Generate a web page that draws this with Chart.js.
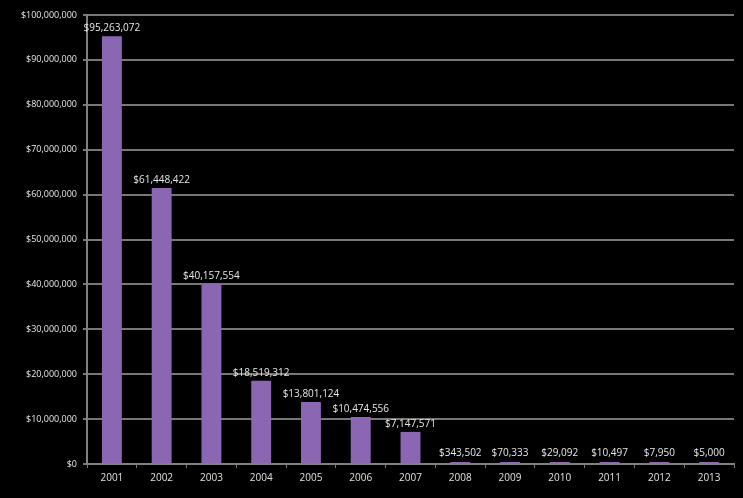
<!DOCTYPE html>
<html>
<head>
<meta charset="utf-8">
<script src="https://cdn.jsdelivr.net/npm/chart.js@4"></script>
<style>
    html, body { margin: 0; padding: 0; background: #000; }
    #wrap { width: 743px; height: 498px; }
</style>
</head>
<body>
<div id="wrap"><canvas id="fundingChart"></canvas></div>
<script>
const years = ['2001', '2002', '2003', '2004', '2005', '2006', '2007', '2008', '2009', '2010', '2011', '2012', '2013'];
const amounts = [95263072, 61448422, 40157554, 18519312, 13801124, 10474556, 7147571, 343502, 70333, 29092, 10497, 7950, 5000];
const yTicks = [0, 10000000, 20000000, 30000000, 40000000, 50000000, 60000000, 70000000, 80000000, 90000000, 100000000];

const fontFamily = '"Open Sans", "DejaVu Sans Condensed", sans-serif';

function money(v) {
    return '$' + v.toLocaleString('en-US');
}

// draw the value above each bar
const barLabels = {
    id: 'barLabels',
    afterDatasetsDraw(chart) {
        const ctx = chart.ctx;
        const meta = chart.getDatasetMeta(0);
        ctx.save();
        ctx.font = '10px ' + fontFamily;
        ctx.fillStyle = '#e6e6e6';
        ctx.textAlign = 'center';
        ctx.textBaseline = 'bottom';
        meta.data.forEach((bar, i) => {
            ctx.fillText(money(amounts[i]), bar.x, Math.min(bar.y, bar.base - 2) - 3);
        });
        ctx.restore();
    }
};

const ctx = document.getElementById('fundingChart').getContext('2d');
new Chart(ctx, {
    type: 'bar',
    data: {
        labels: years,
        datasets: [{
            data: amounts,
            backgroundColor: '#8b66b3',
            minBarLength: 2,
            barPercentage: 0.4,
            categoryPercentage: 1
        }]
    },
    options: {
        responsive: true,
        maintainAspectRatio: false,
        animation: false,
        layout: { padding: { top: 15, right: 9, left: 0, bottom: 0 } },
        plugins: {
            legend: { display: false },
            tooltip: { enabled: false }
        },
        scales: {
            x: {
                offset: true,
                afterFit(scale) { scale.height = 34; },
                grid: {
                    display: true,
                    drawOnChartArea: false,
                    drawTicks: true,
                    tickLength: 4,
                    color: '#777',
                    offset: true
                },
                border: { display: true, color: '#808080', width: 2 },
                ticks: {
                    color: '#e0e0e0',
                    font: { family: fontFamily, size: 10 },
                    padding: 4,
                    maxRotation: 0
                }
            },
            y: {
                min: 0,
                max: 100000000,
                afterFit(scale) { scale.width = 87; },
                afterBuildTicks(scale) {
                    scale.ticks = yTicks.map(v => ({ value: v }));
                },
                grid: {
                    color: '#777',
                    lineWidth: 2,
                    drawTicks: true,
                    tickLength: 4
                },
                border: { display: true, color: '#808080', width: 2 },
                ticks: {
                    color: '#e6e6e6',
                    font: { family: fontFamily, size: 9 },
                    padding: 6,
                    callback: v => money(v)
                }
            }
        }
    },
    plugins: [barLabels]
});
</script>
</body>
</html>
